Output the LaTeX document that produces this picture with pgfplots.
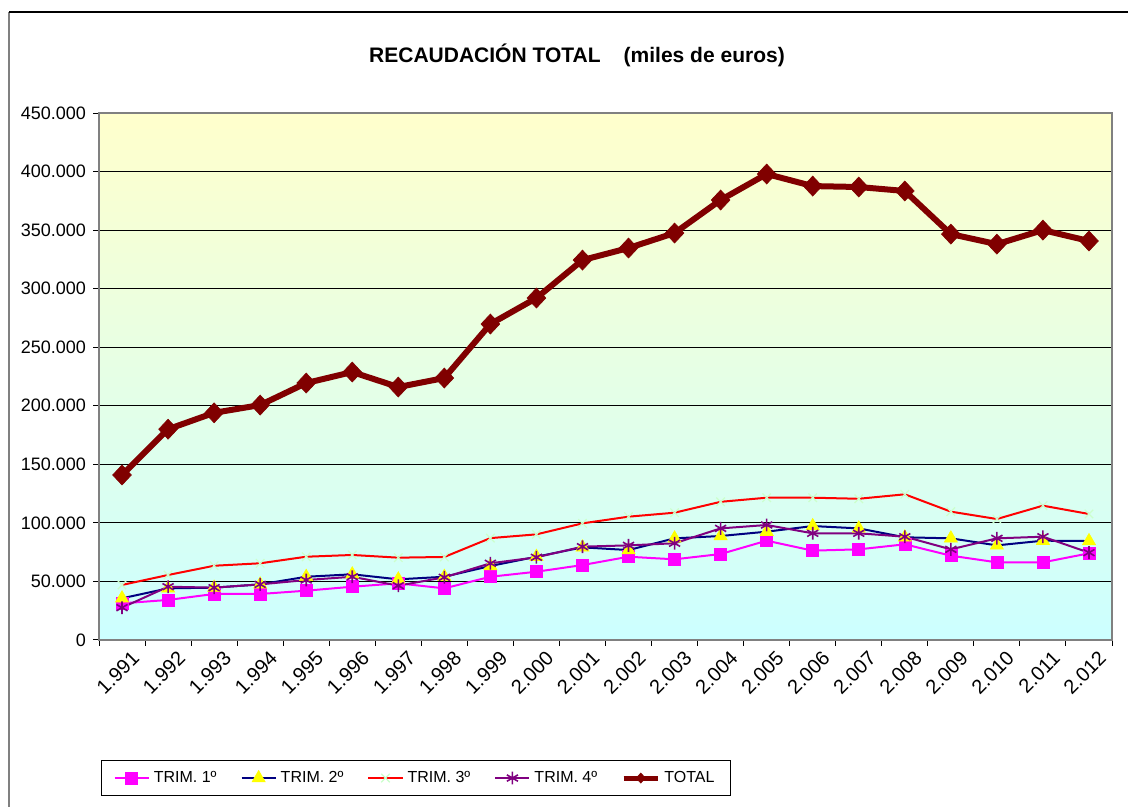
\documentclass[border=0pt]{standalone}
\usepackage{fontspec}
\setmainfont{Liberation Sans}
\usepackage{pgfplots}
\usepackage{pgfplotstable}
\pgfplotsset{compat=1.18}

\definecolor{tmag}{HTML}{FF00FF}
\definecolor{tnavy}{HTML}{000080}
\definecolor{tyel}{HTML}{FFFF00}
\definecolor{tred}{HTML}{FF0000}
\definecolor{tpale}{HTML}{CCFFCC}
\definecolor{tpur}{HTML}{800080}
\definecolor{tmar}{HTML}{800000}
\definecolor{bgtop}{HTML}{FFFFCC}
\definecolor{bgbot}{HTML}{CCFFFF}

% miles de euros / 1000
\pgfplotstableread{
x  t1    t2    t3     t4    total
0  31.3  35.6  47.0   27.6  140.9
1  34.2  44.1  55.5   45.5  180.0
2  39.3  44.7  63.4   44.7  194.0
3  39.3  47.5  65.5   47.5  200.6
4  42.1  54.0  71.1   51.2  219.4
5  45.5  56.1  72.6   54.0  228.8
6  48.4  51.8  70.3   46.4  216.0
7  44.1  54.0  70.9   53.5  223.7
8  54.0  63.2  87.0   65.5  269.8
9  58.3  71.1  90.2   70.6  292.0
10 64.0  79.1  99.6   79.7  324.4
11 71.1  76.8  105.3  80.8  334.7
12 68.9  86.8  108.7  82.6  347.5
13 73.4  88.8  118.0  95.3  375.7
14 84.8  92.5  121.5  98.2  397.9
15 76.3  97.3  121.5  91.1  387.6
16 77.4  95.3  120.6  91.1  386.8
17 81.7  87.7  124.4  88.2  383.4
18 72.0  86.8  109.6  77.4  346.6
19 66.3  80.8  103.3  86.8  338.0
20 66.3  84.8  114.7  88.2  350.0
21 74.0  84.5  107.6  74.6  340.7
}\datos

\begin{document}
\begin{tikzpicture}
\path[use as bounding box] (0,0) rectangle (564pt,403.5pt);
\draw[gray, line width=0.6pt] (4.5pt,0) -- (4.5pt,397.5pt);
\draw[black, line width=0.6pt] (4.5pt,397.5pt) -- (564pt,397.5pt);
\node[font=\fontsize{10.5}{12}\selectfont\bfseries] at (288.5pt,376pt)
  {RECAUDACIÓN TOTAL\hspace{1.1em}(miles de euros)};
\begin{axis}[
  at={(49.5pt,83.5pt)}, anchor=south west,
  scale only axis, width=506.5pt, height=263.5pt,
  xmin=-0.5, xmax=21.5, ymin=0, ymax=450,
  axis background/.style={top color=bgtop, bottom color=bgbot},
  axis line style={draw=gray, line width=1pt},
  ytick={0,50,...,450},
  yticklabels={0,50.000,100.000,150.000,200.000,250.000,300.000,350.000,400.000,450.000},
  ymajorgrids, grid style={black, line width=0.5pt},
  xtick={-0.5,0.5,...,21.5}, xticklabels={},
  extra x ticks={0,...,21},
  extra x tick labels={1.991,1.992,1.993,1.994,1.995,1.996,1.997,1.998,1.999,2.000,2.001,2.002,2.003,2.004,2.005,2.006,2.007,2.008,2.009,2.010,2.011,2.012},
  extra x tick style={major tick length=0pt, xmajorgrids=false,
    xticklabel style={rotate=45, anchor=north east, yshift=-3pt, xshift=3pt,
      font=\fontsize{10}{11}\selectfont}},
  xtick pos=bottom, ytick pos=left, tick align=outside,
  major tick length=3pt,
  tick style={black, line width=0.5pt},
  tick label style={font=\fontsize{9}{10}\selectfont},
  legend columns=5,
  legend style={at={(0.313,-0.262)}, anchor=center, draw=black, line width=0.5pt,
    font=\fontsize{8}{9.5}\selectfont, inner xsep=6pt, inner ysep=3pt,
    /tikz/every even column/.append style={column sep=10pt}},
]
\addplot[tmag, line width=1pt, mark=square*, mark size=3pt,
  mark options={fill=tmag, draw=tmag, line width=0.3pt}] table[x=x, y=t1] {\datos};
\addplot[tnavy, line width=1pt, mark=triangle*, mark size=3.8pt,
  mark options={fill=tyel, draw=tyel, line width=0.3pt}] table[x=x, y=t2] {\datos};
\addplot[tred, line width=1pt, mark=x, mark size=3pt,
  mark options={draw=tpale, line width=0.6pt}] table[x=x, y=t3] {\datos};
\addplot[tpur, line width=1pt, mark=asterisk, mark size=3.2pt,
  mark options={draw=tpur, line width=0.8pt}] table[x=x, y=t4] {\datos};
\addplot[tmar, line width=3pt, mark=diamond*, mark size=5pt,
  mark options={fill=tmar, draw=tmar, line width=0.3pt, xscale=1.25},
  legend image post style={mark size=2.5pt, line width=2.5pt}] table[x=x, y=total] {\datos};
\legend{TRIM. 1º, TRIM. 2º, TRIM. 3º, TRIM. 4º, TOTAL}
\end{axis}
\end{tikzpicture}
\end{document}
